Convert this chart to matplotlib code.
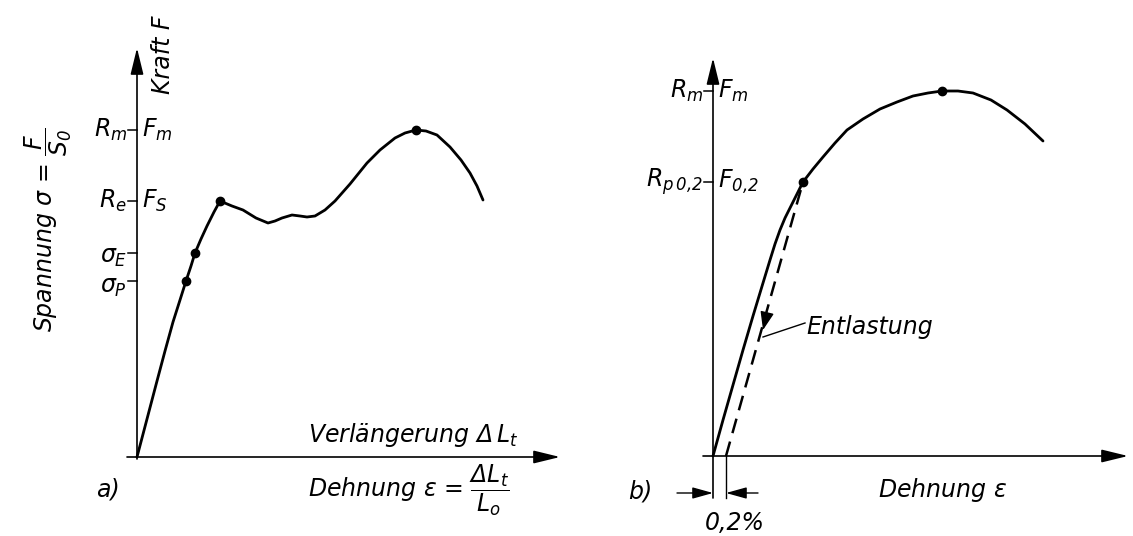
import matplotlib.pyplot as plt

plt.rcParams['font.family'] = 'DejaVu Sans'
plt.rcParams['font.style'] = 'italic'
plt.rcParams['mathtext.fontset'] = 'custom'
plt.rcParams['mathtext.rm'] = 'DejaVu Sans:italic'
plt.rcParams['mathtext.it'] = 'DejaVu Sans:italic'
plt.rcParams['mathtext.sf'] = 'DejaVu Sans:italic'

# a) Stahl mit ausgepraegter Streckgrenze (Verlaengerung, Kraft)
dl_a = [0, 10, 20, 28, 36, 43, 49, 54, 58, 64, 70, 77, 83,
        95, 106, 119, 131, 138, 145, 155, 163, 170, 178, 188, 198,
        213, 230, 243, 258, 268, 279, 289, 300, 313, 324, 333, 340, 346]
f_a = [0, 38, 76, 106, 135, 157, 176, 191, 204, 218, 231, 245, 256,
       251, 247, 239, 234, 236, 239, 242, 241, 240, 241, 247, 256,
       273, 294, 307, 319, 324, 327, 326, 322, 310, 297, 284, 271, 257]
sig_P = 176
sig_E = 204
R_e = 256
R_m_a = 327

# b) ohne ausgepraegte Streckgrenze
eps_b = [0, 10, 20, 30, 40, 50, 57, 62, 67, 72, 78, 84, 90, 100, 110, 122,
         134, 150, 167, 184, 200, 215, 229, 245, 260, 278, 294, 312, 330]
f_b = [0, 36, 71, 106, 140, 173, 196, 212, 226, 238, 250, 262, 274, 287, 299,
       313, 326, 337, 347, 354, 360, 363, 365, 365, 363, 356, 346, 332, 315]
R_p02 = 274
R_m_b = 365
offset = 13  # 0,2 % bleibende Dehnung

fig = plt.figure(figsize=(11.33, 5.36), dpi=100)
axL = fig.add_axes([0, 0, 566 / 1133, 1])
axL.set_xlim(-137, 429)
axL.set_ylim(-79, 457)
axR = fig.add_axes([566 / 1133, 0, 567 / 1133, 1])
axR.set_xlim(-147, 420)
axR.set_ylim(-80, 456)
for ax in (axL, axR):
    ax.axis('off')

fs = 17
head = dict(arrowstyle='-|>,head_length=0.9,head_width=0.22', color='black',
            lw=1.2, mutation_scale=18, shrinkA=0, shrinkB=0)


def axes_arrows(ax, y0, ytop, xleft, xright):
    ax.annotate('', xy=(0, ytop), xytext=(0, y0), arrowprops=head)
    ax.annotate('', xy=(xright, 0), xytext=(xleft, 0), arrowprops=head)


def tick(ax, y, left, right, dy_left=0, dy_right=0):
    ax.plot([-9, 0], [y, y], color='black', lw=1.1)
    ax.text(-10, y + dy_left, left, ha='right', va='center', fontsize=fs)
    if right:
        ax.text(5, y + dy_right, right, ha='left', va='center', fontsize=fs)


# --- a) ---
axes_arrows(axL, -2, 409, -10, 423)
axL.plot(dl_a, f_a, color='black', lw=2.0, solid_capstyle='round',
         solid_joinstyle='round')
axL.plot([49, 58, 83, 279], [sig_P, sig_E, R_e, R_m_a], 'o', color='black', ms=6)
tick(axL, R_m_a, r'$R_m$', r'$F_m$')
tick(axL, R_e, r'$R_e$', r'$F_S$')
tick(axL, sig_E, r'$\sigma_E$', None, dy_left=-4)
tick(axL, sig_P, r'$\sigma_P$', None, dy_left=-6)
axL.text(26, 402, 'Kraft F', rotation=90, ha='center', va='center', fontsize=fs)
axL.text(-89, 227, r'Spannung $\sigma$ = $\dfrac{F}{S_0}$', rotation=90,
         ha='center', va='center', fontsize=fs)
axL.text(171, 22, r'Verlängerung $\Delta\,L_t$', ha='left', va='center', fontsize=fs)
axL.text(171, -33, r'Dehnung $\varepsilon$ = $\dfrac{\Delta L_t}{L_o}$', ha='left',
         va='center', fontsize=fs)
axL.text(-41, -33, 'a)', ha='left', va='center', fontsize=fs)

# --- b) ---
axes_arrows(axR, -42, 398, -10, 415)
axR.plot(eps_b, f_b, color='black', lw=2.0, solid_capstyle='round',
         solid_joinstyle='round')
axR.plot([offset, 90], [0, R_p02], color='black', lw=1.8, dashes=(6, 3.5))
axR.plot([90, 229], [R_p02, R_m_b], 'o', color='black', ms=6)
tick(axR, R_m_b, r'$R_m$', r'$F_m$')
tick(axR, R_p02, r'$R_{p\,0{,}2}$', r'$F_{0{,}2}$')

# Entlastungspfeil auf der gestrichelten Linie
axR.annotate('', xy=(50, 126), xytext=(54, 143),
             arrowprops=dict(arrowstyle='-|>,head_length=0.8,head_width=0.3',
                             color='black', lw=1.0, mutation_scale=14,
                             shrinkA=0, shrinkB=0))
axR.plot([50, 92], [119, 133], color='black', lw=1.0)
axR.text(93, 129, 'Entlastung', ha='left', va='center', fontsize=fs)

# Bemassung 0,2 %
axR.plot([offset, offset], [0, -42], color='black', lw=1.0)
small = dict(arrowstyle='-|>,head_length=0.9,head_width=0.25', color='black',
             lw=1.0, mutation_scale=14, shrinkA=0, shrinkB=0)
axR.annotate('', xy=(0, -37), xytext=(-36, -37), arrowprops=small)
axR.annotate('', xy=(offset, -37), xytext=(45, -37), arrowprops=small)
axR.text(22, -67, '0,2%', ha='center', va='center', fontsize=fs)
axR.text(165, -34, r'Dehnung $\varepsilon$', ha='left', va='center', fontsize=fs)
axR.text(-85, -36, 'b)', ha='left', va='center', fontsize=fs)

fig.savefig('out.png', dpi=100)
